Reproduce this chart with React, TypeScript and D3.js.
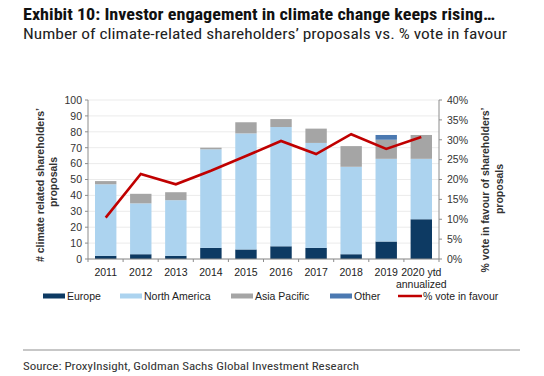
import React from 'react';
import * as d3 from 'd3';

const categories = ['2011', '2012', '2013', '2014', '2015', '2016', '2017', '2018', '2019', '2020 ytd|annualized'];
const europe = [2, 3, 2, 7, 6, 8, 7, 3, 11, 25];
const northAmerica = [45, 32, 35, 62, 73, 75, 66, 55, 52, 38];
const asiaPacific = [2, 6, 5, 1, 7, 5, 9, 13, 12, 15];
const other = [0, 0, 0, 0, 0, 0, 0, 0, 3, 0];
const votePct = [10.4, 21.4, 18.8, 22.2, 25.9, 29.7, 26.4, 31.4, 27.7, 30.7];
const leftTicks = [0, 10, 20, 30, 40, 50, 60, 70, 80, 90, 100];
const rightTicks = [0, 5, 10, 15, 20, 25, 30, 35, 40];
const seriesNames = ['Europe', 'North America', 'Asia Pacific', 'Other'];
const seriesColors = ['#0d3a63', '#acd3ef', '#a5a5a5', '#4b79b1'];
const lineName = '% vote in favour';
const lineColor = '#c00000';

const W = 544, H = 376;
const left = 88, right = 439, top = 100, bottom = 259;
const fontMain = 'Liberation Sans, Arial, sans-serif';
const fontNarrow = '"Liberation Sans Narrow", "Arial Narrow", "Roboto Condensed", "Liberation Sans", sans-serif';

export default function App() {
  const x = d3.scaleBand<string>().domain(categories).range([left, right]).paddingInner(0.39).paddingOuter(0.2);
  const y = d3.scaleLinear().domain([0, 100]).range([bottom, top]);
  const y2 = d3.scaleLinear().domain([0, 40]).range([bottom, top]);

  const rows = categories.map((c, i) => ({ cat: c, Europe: europe[i], 'North America': northAmerica[i], 'Asia Pacific': asiaPacific[i], Other: other[i] }));
  const stack = d3.stack<any>().keys(seriesNames)(rows);

  const step = x.step();
  const line = d3.line<number>()
    .x((_, i) => (x(categories[i]) as number) + x.bandwidth() / 2)
    .y(d => y2(d));

  const boundaries = d3.range(categories.length + 1).map(i => left + (right - left) * i / categories.length);

  const legendItems = [
    { name: 'Europe', color: seriesColors[0], x: 43 },
    { name: 'North America', color: seriesColors[1], x: 120 },
    { name: 'Asia Pacific', color: seriesColors[2], x: 231 },
    { name: 'Other', color: seriesColors[3], x: 330 },
  ];

  return (
    <svg width={W} height={H} style={{ position: 'absolute', left: 0, top: 0, background: '#fff' }}>
      <rect x={0} y={0} width={W} height={H} fill="#fff" />
      <text x={23} y={19.5} fontFamily={fontNarrow} fontWeight="bold" fontSize={16.5} fill="#111"
        textLength={472} lengthAdjust="spacingAndGlyphs">Exhibit 10: Investor engagement in climate change keeps rising…</text>
      <text x={23} y={38.5} fontFamily={fontNarrow} fontSize={14} fill="#222"
        textLength={484} lengthAdjust="spacingAndGlyphs">Number of climate-related shareholders’ proposals vs. % vote in favour</text>

      {/* gridlines */}
      {leftTicks.map(t => (
        <line key={'g' + t} x1={left} x2={right} y1={y(t)} y2={y(t)} stroke="#e6e6e6" strokeWidth={0.8} />
      ))}

      {/* bars */}
      {stack.map((s, si) => (
        <g key={seriesNames[si]} fill={seriesColors[si]}>
          {s.map((d, i) => d[1] - d[0] > 0 ? (
            <rect key={i} x={x(categories[i])} width={x.bandwidth()} y={y(d[1])} height={y(d[0]) - y(d[1])} />
          ) : null)}
        </g>
      ))}

      {/* line */}
      <path d={line(votePct) || ''} fill="none" stroke={lineColor} strokeWidth={2.6} strokeLinejoin="miter" />

      {/* axes */}
      <line x1={left} x2={left} y1={top} y2={bottom} stroke="#8c8c8c" strokeWidth={1} />
      <line x1={right} x2={right} y1={top} y2={bottom} stroke="#8c8c8c" strokeWidth={1} />
      <line x1={left} x2={right} y1={bottom} y2={bottom} stroke="#8c8c8c" strokeWidth={1} />
      {leftTicks.map(t => (
        <g key={'l' + t}>
          <line x1={left - 3} x2={left} y1={y(t)} y2={y(t)} stroke="#8c8c8c" />
          <text x={82} y={y(t) + 3.8} textAnchor="end" fontFamily={fontMain} fontSize={10.5} fill="#333">{t}</text>
        </g>
      ))}
      {rightTicks.map(t => (
        <g key={'r' + t}>
          <line x1={right} x2={right + 3} y1={y2(t)} y2={y2(t)} stroke="#8c8c8c" />
          <text x={447} y={y2(t) + 3.8} textAnchor="start" fontFamily={fontMain} fontSize={10.5} fill="#333">{t}%</text>
        </g>
      ))}
      {boundaries.map((b, i) => (
        <line key={'b' + i} x1={b} x2={b} y1={bottom} y2={bottom + 3} stroke="#8c8c8c" />
      ))}
      {categories.map((c, i) => {
        const cx = (x(c) as number) + x.bandwidth() / 2;
        const lines = c.split('|');
        return (
          <text key={c} x={cx} y={276} textAnchor="middle" fontFamily={fontMain} fontSize={10.5} fill="#222">
            {lines.map((ln, j) => (
              <tspan key={j} x={cx} dy={j === 0 ? 0 : 12}>{ln}</tspan>
            ))}
          </text>
        );
      })}

      {/* axis titles */}
      <g transform="translate(40,185) rotate(-90)">
        <text x={0} y={4} textAnchor="middle" fontFamily={fontMain} fontWeight="bold" fontSize={10.5} fill="#333"
          textLength={154} lengthAdjust="spacingAndGlyphs">{'# climate related shareholders’'}</text>
      </g>
      <g transform="translate(53,182) rotate(-90)">
        <text x={0} y={4} textAnchor="middle" fontFamily={fontMain} fontWeight="bold" fontSize={10.5} fill="#333">proposals</text>
      </g>
      <g transform="translate(485,190) rotate(-90)">
        <text x={0} y={4} textAnchor="middle" fontFamily={fontMain} fontWeight="bold" fontSize={10.5} fill="#333"
          textLength={165} lengthAdjust="spacingAndGlyphs">{'% vote in favour of shareholders’'}</text>
      </g>
      <g transform="translate(499,189) rotate(-90)">
        <text x={0} y={4} textAnchor="middle" fontFamily={fontMain} fontWeight="bold" fontSize={10.5} fill="#333">proposals</text>
      </g>

      {/* legend */}
      {legendItems.map(it => (
        <g key={it.name}>
          <rect x={it.x} y={293.5} width={22} height={5} fill={it.color} />
          <text x={it.x + 24} y={300} fontFamily={fontMain} fontSize={10.5} fill="#222">{it.name}</text>
        </g>
      ))}
      <line x1={398} x2={422} y1={296} y2={296} stroke={lineColor} strokeWidth={2.5} />
      <text x={423} y={300} fontFamily={fontMain} fontSize={10.5} fill="#222">{lineName}</text>

      {/* footer */}
      <line x1={23} x2={520} y1={350} y2={350} stroke="#b4b4b4" strokeWidth={1.5} />
      <text x={23} y={369.5} fontFamily={fontNarrow} fontSize={11.5} fill="#333"
        textLength={336} lengthAdjust="spacingAndGlyphs">Source: ProxyInsight, Goldman Sachs Global Investment Research</text>
    </svg>
  );
}
